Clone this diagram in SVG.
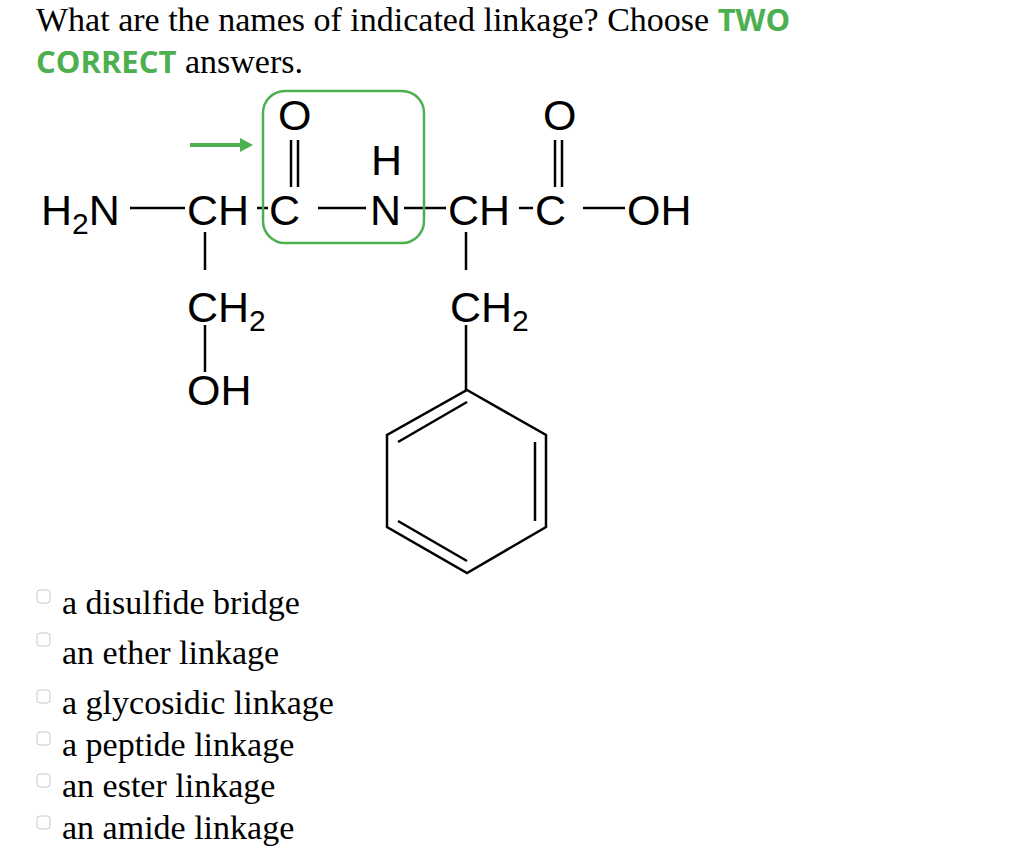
<svg xmlns="http://www.w3.org/2000/svg" width="1024" height="852" viewBox="0 0 1024 852">
<style>
.q{font-family:"Liberation Serif",serif;font-size:34px;fill:#000}
.g{font-family:"Open Sans","Liberation Sans",sans-serif;font-weight:bold;fill:#4caf50;font-size:31px}
.c{font-family:"Liberation Sans",Arial,sans-serif;font-size:43px;fill:#000}
.s{font-size:30px}
.b{stroke:#000;stroke-width:2.5;fill:none}
.cb{fill:#fff;stroke:#c8c8c8;stroke-width:1}
</style>
<rect width="1024" height="852" fill="#fff"/>
<g id="title">
<text class="q" x="36" y="31">What are the names of indicated linkage? Choose <tspan class="g">TWO</tspan></text>
<text class="q" x="36" y="73"><tspan class="g">CORRECT</tspan> answers.</text>
</g>
<g id="molecule">
<text class="c" x="41" y="225">H<tspan class="s" dy="9">2</tspan><tspan dy="-9">N</tspan></text>
<text class="c" x="187" y="225">CH</text>
<text class="c" x="269" y="225">C</text>
<text class="c" x="370" y="225">N</text>
<text class="c" x="371" y="175">H</text>
<text class="c" x="278" y="130">O</text>
<text class="c" x="448" y="225">CH</text>
<text class="c" x="535" y="225">C</text>
<text class="c" x="543" y="130">O</text>
<text class="c" x="627" y="225">OH</text>
<text class="c" x="187" y="322">CH<tspan class="s" dy="9">2</tspan></text>
<text class="c" x="187" y="405">OH</text>
<text class="c" x="450" y="322">CH<tspan class="s" dy="9">2</tspan></text>
</g>
<g id="connectors" class="b">
<line x1="130" y1="208" x2="185" y2="208"/>
<line x1="257" y1="208" x2="268" y2="208"/>
<line x1="318" y1="208" x2="366" y2="208"/>
<line x1="404" y1="208" x2="446" y2="208"/>
<line x1="519" y1="208" x2="533" y2="208"/>
<line x1="583" y1="208" x2="625" y2="208"/>
<line x1="291" y1="140" x2="291" y2="187"/>
<line x1="298" y1="140" x2="298" y2="187"/>
<line x1="555" y1="140" x2="555" y2="187"/>
<line x1="562" y1="140" x2="562" y2="187"/>
<line x1="205" y1="232" x2="205" y2="270"/>
<line x1="205" y1="325" x2="205" y2="372"/>
<line x1="466" y1="232" x2="466" y2="270"/>
<line x1="466" y1="325" x2="466" y2="390"/>
</g>
<g id="benzene" class="b">
<polygon points="467,390 546,435 546,527 467,573 387,527 387,435"/>
<line x1="398" y1="442" x2="467" y2="402"/>
<line x1="535" y1="442" x2="535" y2="521"/>
<line x1="398" y1="521" x2="467" y2="561"/>
</g>
<g id="highlight">
<rect x="263" y="91" width="161" height="152" rx="22" fill="none" stroke="#4caf50" stroke-width="2.5"/>
<line x1="190" y1="145" x2="242" y2="145" stroke="#4caf50" stroke-width="4"/>
<polygon points="240,138 253,145 240,152" fill="#4caf50"/>
</g>
<g id="options">
<rect class="cb" x="37" y="590" width="13" height="13" rx="3"/>
<rect class="cb" x="37" y="633" width="13" height="13" rx="3"/>
<rect class="cb" x="37" y="690" width="13" height="13" rx="3"/>
<rect class="cb" x="37" y="732" width="13" height="13" rx="3"/>
<rect class="cb" x="37" y="774" width="13" height="13" rx="3"/>
<rect class="cb" x="37" y="816" width="13" height="13" rx="3"/>
<text class="q" x="62" y="614">a disulfide bridge</text>
<text class="q" x="62" y="664">an ether linkage</text>
<text class="q" x="62" y="714">a glycosidic linkage</text>
<text class="q" x="62" y="756">a peptide linkage</text>
<text class="q" x="62" y="797">an ester linkage</text>
<text class="q" x="62" y="839">an amide linkage</text>
</g>
</svg>
